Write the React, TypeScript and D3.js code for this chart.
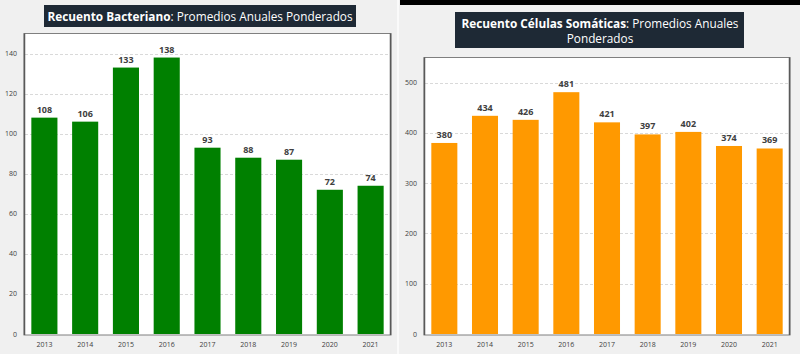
import React, { useRef, useEffect } from "react";
import * as d3 from "d3";

const years = ["2013", "2014", "2015", "2016", "2017", "2018", "2019", "2020", "2021"];
const bacterialCounts = [108, 106, 133, 138, 93, 88, 87, 72, 74];
const somaticCounts = [380, 434, 426, 481, 421, 397, 402, 374, 369];
const bacterialTicks = [0, 20, 40, 60, 80, 100, 120, 140];
const somaticTicks = [0, 100, 200, 300, 400, 500];

const FONT = "'Open Sans', 'DejaVu Sans', sans-serif";

const drawPanel = (svg, opts) => {
  const { x0, x1, top, bottom, yMax, ticks, values, color, labelX } = opts;
  const g = svg.append("g");

  // plot box
  g.append("rect")
    .attr("x", x0)
    .attr("y", top)
    .attr("width", x1 - x0)
    .attr("height", bottom - top + 1)
    .attr("fill", "#ffffff")
    .attr("stroke", "#7f7f7f")
    .attr("stroke-width", 1);

  const x = d3.scaleBand().domain(years).range([x0, x1]).paddingInner(0.36).paddingOuter(0.18);
  const y = d3.scaleLinear().domain([0, yMax]).range([bottom, top]);

  // gridlines
  g.append("g")
    .selectAll("line")
    .data(ticks.filter((t) => t > 0))
    .enter()
    .append("line")
    .attr("x1", x0 + 1)
    .attr("x2", x1 - 1)
    .attr("y1", (d) => Math.round(y(d)) + 0.5)
    .attr("y2", (d) => Math.round(y(d)) + 0.5)
    .attr("stroke", "#d9d9d9")
    .attr("stroke-dasharray", "3,2");

  // y tick labels
  g.append("g")
    .selectAll("text")
    .data(ticks)
    .enter()
    .append("text")
    .attr("x", labelX)
    .attr("y", (d) => y(d) + 2.5)
    .attr("text-anchor", "end")
    .style("font-family", FONT)
    .style("font-size", "7px")
    .style("fill", "#404040")
    .text((d) => d);

  // bars
  g.append("g")
    .selectAll("rect")
    .data(values)
    .enter()
    .append("rect")
    .attr("x", (d, i) => x(years[i]))
    .attr("y", (d) => y(d))
    .attr("width", x.bandwidth())
    .attr("height", (d) => bottom - y(d))
    .attr("fill", color);

  // value labels
  g.append("g")
    .selectAll("text")
    .data(values)
    .enter()
    .append("text")
    .attr("x", (d, i) => x(years[i]) + x.bandwidth() / 2)
    .attr("y", (d) => y(d) - 5)
    .attr("text-anchor", "middle")
    .style("font-family", FONT)
    .style("font-size", "9px")
    .style("font-weight", "bold")
    .style("fill", "#404040")
    .text((d) => d);

  // axis line + side borders
  g.append("line")
    .attr("x1", x0 + 0.5)
    .attr("x2", x0 + 0.5)
    .attr("y1", top)
    .attr("y2", bottom + 1)
    .attr("stroke", "#595959")
    .attr("stroke-width", 1.5);
  g.append("line")
    .attr("x1", x1 - 0.5)
    .attr("x2", x1 - 0.5)
    .attr("y1", top)
    .attr("y2", bottom + 1)
    .attr("stroke", "#595959")
    .attr("stroke-width", 1.5);

  // x labels
  g.append("g")
    .selectAll("text")
    .data(years)
    .enter()
    .append("text")
    .attr("x", (d) => x(d) + x.bandwidth() / 2)
    .attr("y", bottom + 13)
    .attr("text-anchor", "middle")
    .style("font-family", FONT)
    .style("font-size", "7px")
    .style("fill", "#404040")
    .text((d) => d);
};

const App = () => {
  const svgRef = useRef();

  useEffect(() => {
    const svg = d3.select(svgRef.current);
    svg.selectAll("*").remove();
    const width = 800;
    const height = 354;

    svg.append("rect").attr("width", width).attr("height", height).attr("fill", "#f0f0f0");
    svg.append("rect").attr("x", 397).attr("y", 0).attr("width", 2).attr("height", height).attr("fill", "#fafafa");
    svg.append("rect").attr("x", 400).attr("y", 0).attr("width", 400).attr("height", 5).attr("fill", "#000000");

    // left title
    svg.append("rect").attr("x", 44).attr("y", 5).attr("width", 312).attr("height", 22).attr("fill", "#1e2935");
    svg
      .append("text")
      .attr("x", 200)
      .attr("y", 20.5)
      .attr("text-anchor", "middle")
      .style("font-family", FONT)
      .style("font-size", "11.8px")
      .style("fill", "#ffffff")
      .html(
        '<tspan style="font-weight:bold">Recuento Bacteriano</tspan>: Promedios Anuales Ponderados'
      );

    // right title
    svg.append("rect").attr("x", 455).attr("y", 12).attr("width", 289).attr("height", 36).attr("fill", "#1e2935");
    svg
      .append("text")
      .attr("x", 600)
      .attr("y", 27.5)
      .attr("text-anchor", "middle")
      .style("font-family", FONT)
      .style("font-size", "11.8px")
      .style("fill", "#ffffff")
      .html('<tspan style="font-weight:bold">Recuento Células Somáticas</tspan>: Promedios Anuales');
    svg
      .append("text")
      .attr("x", 600)
      .attr("y", 43)
      .attr("text-anchor", "middle")
      .style("font-family", FONT)
      .style("font-size", "11.8px")
      .style("fill", "#ffffff")
      .text("Ponderados");

    drawPanel(svg, {
      x0: 24,
      x1: 391,
      top: 33.5,
      bottom: 334,
      yMax: 150,
      ticks: bacterialTicks,
      values: bacterialCounts,
      color: "#008000",
      labelX: 17,
    });
    drawPanel(svg, {
      x0: 424,
      x1: 790,
      top: 57.5,
      bottom: 334,
      yMax: 550,
      ticks: somaticTicks,
      values: somaticCounts,
      color: "#ff9900",
      labelX: 417,
    });
  }, []);

  return <svg ref={svgRef} width={800} height={354} style={{ position: "absolute", left: 0, top: 0 }}></svg>;
};

export default App;
